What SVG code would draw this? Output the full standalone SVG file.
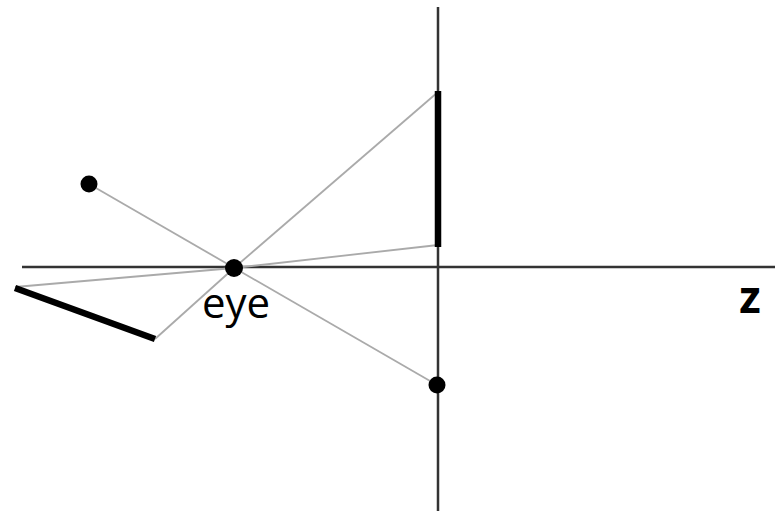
<svg xmlns="http://www.w3.org/2000/svg" width="777" height="511" viewBox="0 0 777 511">
<style>
.axis{stroke:#333;stroke-width:2.5;fill:none}
.ray{stroke:#aaa;stroke-width:1.8;fill:none}
.thick{stroke:#000;stroke-width:6.5;fill:none}
.dot{fill:#000}
.lbl{font-family:"Open Sans","Liberation Sans",sans-serif;fill:#000}
</style>
<rect width="777" height="511" fill="#fff"/>
<g id="connectors">
<line class="axis" x1="22" y1="267" x2="775" y2="267"/>
<line class="axis" x1="438" y1="7" x2="438" y2="511"/>
<line class="ray" x1="89" y1="184" x2="437" y2="385"/>
<line class="ray" x1="234" y1="268" x2="438" y2="92"/>
<line class="ray" x1="234" y1="268" x2="438" y2="245"/>
<line class="ray" x1="234" y1="268" x2="15" y2="287"/>
<line class="ray" x1="234" y1="268" x2="155" y2="339"/>
</g>
<g id="image-segment"><line class="thick" x1="438" y1="91" x2="438" y2="247"/></g>
<g id="object-segment"><line class="thick" x1="15" y1="288" x2="155" y2="339"/></g>
<g id="point"><circle class="dot" cx="89" cy="184" r="8.5"/></g>
<g id="image-point"><circle class="dot" cx="437" cy="385" r="8.5"/></g>
<g id="eye"><circle class="dot" cx="234" cy="268" r="9"/>
<text class="lbl" x="236" y="318" font-size="42" text-anchor="middle">eye</text></g>
<g id="z-label"><text class="lbl" x="750" y="313" font-size="44" font-weight="bold" text-anchor="middle" font-family="Liberation Sans, sans-serif">z</text></g>
</svg>
